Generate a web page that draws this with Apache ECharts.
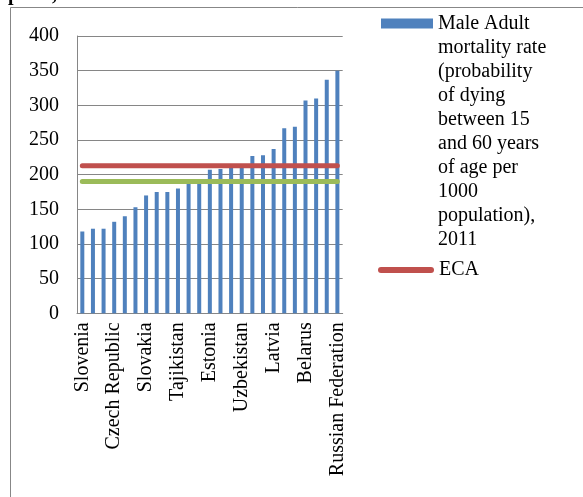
<!DOCTYPE html>
<html>
<head>
<meta charset="utf-8">
<script src="https://cdn.jsdelivr.net/npm/echarts@6/dist/echarts.min.js"></script>
<style>
html,body{margin:0;padding:0;background:#fff;}
#c{width:583px;height:497px;}
</style>
</head>
<body>
<div id="c"></div>
<script>
var countries = ['Slovenia','Albania','Macedonia, FYR','Czech Republic','Croatia','Bosnia and Herzegovina','Slovakia','Montenegro','Serbia','Tajikistan','Poland','Armenia','Estonia','Hungary','Romania','Uzbekistan','Bulgaria','Georgia','Latvia','Azerbaijan','Kyrgyz Republic','Belarus','Turkmenistan','Kazakhstan','Russian Federation'];
var maleMortality = [118,122,122,132,140,153,170,175,175,180,188,189,207,208,210,211,227,228,237,267,269,307,310,337,350];
var ecaValues = [213,213,213,213,213,213,213,213,213,213,213,213,213,213,213,213,213,213,213,213,213,213,213,213,213];
var otherValues = [190,190,190,190,190,190,190,190,190,190,190,190,190,190,190,190,190,190,190,190,190,190,190,190,190];
var yTicks = [0,50,100,150,200,250,300,350,400];
var barName = 'Male Adult mortality rate (probability of dying between 15 and 60 years of age per 1000 population), 2011';
var barLegendLines = ['Male Adult','mortality rate','(probability','of dying','between 15','and 60 years','of age per','1000','population),','2011'];
var titleText = 'per 1,000 males';

var FONT = 'Liberation Serif';
var chart = echarts.init(document.getElementById('c'), null, {renderer:'canvas'});
var lineH = 24;
var nPad = barLegendLines.length - 1;
var padText = new Array(nPad + 1).join('\n') + barLegendLines.join('\n');
var halfBlock = (nPad + barLegendLines.length) * lineH / 2;
chart.setOption({
  backgroundColor: '#fff',
  animation: false,
  textStyle: {fontFamily: FONT},
  graphic: [
    {type:'rect', shape:{x:10.5, y:7.5, width:600, height:600}, style:{fill:'none', stroke:'#878787', lineWidth:1}, silent:true},
    {type:'text', left:8, top:-15, style:{text:titleText, font:'bold 20px "Liberation Serif"', fill:'#000'}, silent:true}
  ],
  grid: {left:77, top:36, right:240.3, bottom:183.7, containLabel:false},
  legend: [
    {
      data:[{name:barName, icon:'rect'}],
      orient:'vertical', left:381, top:18.5 - (halfBlock - 5),
      padding:0, itemWidth:52, itemHeight:10, itemGap:5, selectedMode:false,
      formatter: function(){ return padText; },
      textStyle:{fontFamily:FONT, fontSize:20, color:'#000', lineHeight:lineH}
    },
    {
      data:[{name:'ECA', icon:'path://M3,0 H53 A3,3 0 0 1 53,6 H3 A3,3 0 0 1 3,0 Z'}],
      orient:'vertical', left:378, top:258, padding:0,
      itemWidth:56, itemHeight:6, selectedMode:false,
      textStyle:{fontFamily:FONT, fontSize:20, color:'#000', lineHeight:lineH}
    }
  ],
  xAxis: {
    type:'category', data:countries, boundaryGap:true,
    axisLine:{show:true, lineStyle:{color:'#868686', width:1}},
    axisTick:{show:false},
    axisLabel:{interval:2, rotate:90, margin:9, fontFamily:FONT, fontSize:20, color:'#000'}
  },
  yAxis: {
    type:'value', min:yTicks[0], max:yTicks[yTicks.length-1], interval:50,
    axisLine:{show:true, lineStyle:{color:'#868686', width:1}},
    axisTick:{show:false},
    splitLine:{show:true, lineStyle:{color:'#868686', width:1}},
    axisLabel:{margin:18, fontFamily:FONT, fontSize:20, color:'#000'}
  },
  series: [
    {name:barName, type:'bar', data:maleMortality, barWidth:4, itemStyle:{color:'#4F81BD'}},
    {name:'Other', type:'line', data:otherValues, symbol:'none', lineStyle:{color:'#9BBB59', width:5, cap:'round'}, itemStyle:{color:'#9BBB59'}},
    {name:'ECA', type:'line', data:ecaValues, symbol:'none', lineStyle:{color:'#C0504D', width:5, cap:'round'}, itemStyle:{color:'#C0504D'}}
  ]
});
</script>
</body>
</html>
